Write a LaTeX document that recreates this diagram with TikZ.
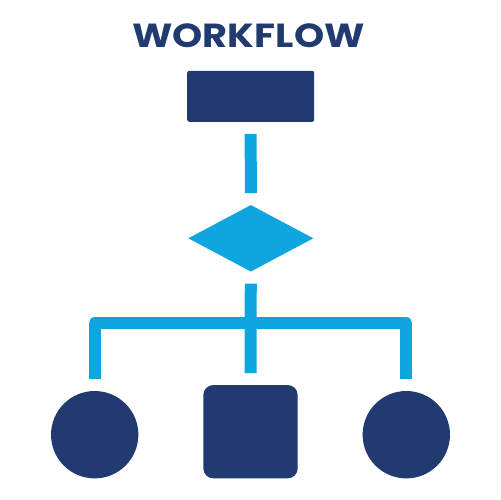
\documentclass[tikz,border=0pt]{standalone}
\usepackage{graphicx}
\usepackage{fontspec}
\setmainfont{Poppins}[BoldFont={* Bold}]
\usetikzlibrary{shapes.geometric}
\definecolor{navy}{HTML}{213B70}
\definecolor{sky}{HTML}{0FA6DF}
\begin{document}
\begin{tikzpicture}[x=0.02cm,y=-0.02cm,
  navybox/.style={fill=navy,draw=none,inner sep=0pt,outer sep=0pt},
  conn/.style={draw=sky,line width=12*0.569pt,line join=round},
  gap/.style={shorten <=12*0.569pt,shorten >=12*0.569pt}]
\useasboundingbox (0,0) rectangle (500,500);
\node[text=navy,font=\bfseries\fontsize{19}{19}\selectfont,anchor=base,inner sep=0pt] (title) at (248.5,48) {\scalebox{1.15}[1]{WORKFLOW}};
\node[navybox,rectangle,rounded corners=2*0.569pt,minimum width=127*0.569pt,minimum height=51*0.569pt] (top) at (250.7,96.3) {};
\node[diamond,fill=sky,draw=none,inner sep=0pt,outer sep=0pt,minimum width=125*0.569pt,minimum height=66.5*0.569pt,aspect=1.88] (dec) at (250.8,238.3) {};
\node[navybox,circle,minimum size=87.4*0.569pt] (left) at (94.7,434.7) {};
\node[navybox,rectangle,rounded corners=10*0.569pt,minimum width=94.4*0.569pt,minimum height=93.3*0.569pt] (mid) at (250.5,431.7) {};
\node[navybox,circle,minimum size=87.4*0.569pt] (right) at (406.3,434.7) {};
\coordinate (j) at (250.5,323.2);
\draw[conn,gap] (top.south) -- (dec.north);
\draw[conn,gap] (dec.south) -- (mid.north);
\draw[conn,gap] (left.north) |- (j) -| (right.north);
\end{tikzpicture}
\end{document}
